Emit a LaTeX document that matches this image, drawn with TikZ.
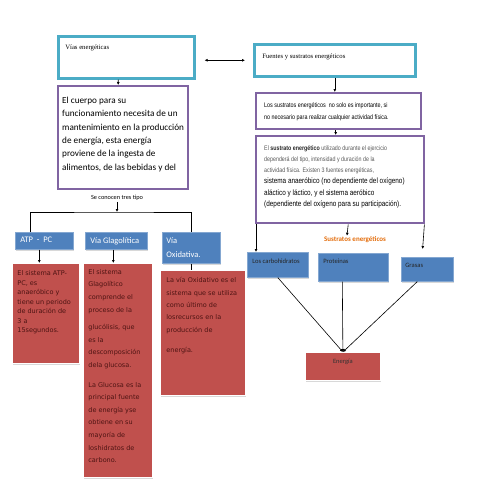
\documentclass[tikz,border=0pt]{standalone}
\usepackage{fontspec}
\setmainfont{Carlito}
\newfontfamily\timesf{Liberation Serif}
\newfontfamily\narrowf{Liberation Sans}[FakeStretch=0.82]
\newfontfamily\tahomaf{DejaVu Sans}
\usepackage{tikz}
\usetikzlibrary{arrows.meta,shadows}
\definecolor{BoxTeal}{HTML}{4BACC6}
\definecolor{BoxPurple}{HTML}{8064A2}
\definecolor{BoxBlue}{HTML}{4F81BD}
\definecolor{BoxRed}{HTML}{C0504D}
\definecolor{TitleOrange}{HTML}{E46C0A}
\definecolor{RedInk}{HTML}{4E1413}
\definecolor{GreyInk}{HTML}{595959}
\newcommand\boxtext[3]{\parbox[t][#2][t]{#1}{\raggedright #3}}

\begin{document}
\begin{tikzpicture}[
    x=1pt, y=-1pt,
    tealbox/.style={
      draw=BoxTeal,
      line width=2.6pt,
      fill=white,
      anchor=north west,
      font=\timesf\fontsize{6.7}{8}\selectfont
    },
    purplebox/.style={
      draw=BoxPurple,
      line width=2.4pt,
      fill=white,
      anchor=north west
    },
    bluebox/.style={
      fill=BoxBlue,
      draw=BoxBlue!70!white,
      line width=0.6pt,
      anchor=north west,
      drop shadow={shadow xshift=1pt, shadow yshift=-1.5pt, fill=black!30}
    },
    redbox/.style={
      fill=BoxRed,
      draw=white,
      line width=0.8pt,
      anchor=north west,
      text=RedInk,
      drop shadow={shadow xshift=0.5pt, shadow yshift=-2pt, fill=black!30}
    },
    arrow/.style={-{Latex[length=3pt,width=3pt]}, line width=0.6pt},
    twoway/.style={{Latex[length=3pt,width=3pt]}-{Latex[length=3pt,width=3pt]}, line width=0.6pt},
    link/.style={line width=0.6pt}
  ]
    \fill[white] (0,0) rectangle (495,495);
    \useasboundingbox (0,0) rectangle (495,495);

    \node[tealbox, inner xsep=7pt, inner ysep=9pt] (vias) at (57,35) {\boxtext{122pt}{24pt}{Vías energéticas}};
    \node[tealbox, inner xsep=8pt, inner ysep=9.5pt] (fuentes) at (253,43) {\boxtext{145pt}{13pt}{Fuentes y sustratos energéticos}};

    \node[purplebox, font=\fontsize{9.2}{13.3}\selectfont, inner xsep=4pt, inner ysep=11pt] (cuerpo) at (57,85)
      {\boxtext{122pt}{81pt}{El cuerpo para su\\funcionamiento necesita de un\\mantenimiento en la producción\\de energía, esta energía\\proviene de la ingesta de\\alimentos, de las bebidas y del}};
    \node[font=\fontsize{6.3}{7}\selectfont, inner sep=1pt] (tipos) at (117,198) {Se conocen tres tipo};
    \coordinate (split) at (117,212);

    \node[bluebox, text=white, font=\fontsize{8.5}{9}\selectfont, inner xsep=5pt, inner ysep=5pt] (atp) at (15,232) {\boxtext{48pt}{7pt}{ATP\hspace{0.45em}-\hspace{0.45em}PC}};
    \node[bluebox, text=white, font=\fontsize{8.5}{9}\selectfont, inner xsep=5pt, inner ysep=5pt] (glago) at (85,232) {\boxtext{52pt}{7pt}{Vía Glagolítica}};
    \node[bluebox, text=white, font=\fontsize{8.5}{14.5}\selectfont, inner xsep=4pt, inner ysep=5pt] (oxid) at (162,232) {\boxtext{50pt}{21pt}{Vía\\Oxidativa.}};

    \node[redbox, font=\tahomaf\fontsize{6.5}{9.5}\selectfont, inner xsep=5pt, inner ysep=7.5pt] (atpred) at (12,263)
      {\boxtext{57pt}{85pt}{El sistema ATP-\\PC, es\\anaeróbico y\\tiene un periodo\\de duración de\\3 a\\15segundos.}};
    \node[redbox, font=\tahomaf\fontsize{6.5}{12.6}\selectfont, inner xsep=5pt, inner ysep=6pt] (glagored) at (83,263)
      {\boxtext{59pt}{202pt}{El sistema\\Glagolítico\\comprende el\\proceso de la\\[5pt]glucólisis, que\\es la\\descomposición\\dela glucosa.\\[7pt]La Glucosa es la\\principal fuente\\de energía yse\\obtiene en su\\mayoría de\\loshidratos de\\carbono.}};
    \node[redbox, font=\tahomaf\fontsize{6.5}{12.4}\selectfont, inner xsep=6pt, inner ysep=7pt] (oxidred) at (160,270)
      {\boxtext{73pt}{111pt}{La vía Oxidativo es el\\sistema que se utiliza\\como último de\\losrecursos en la\\producción de\\[7.6pt]energía.}};

    \node[purplebox, font=\narrowf\fontsize{6.6}{12}\selectfont, inner xsep=8pt, inner ysep=9pt] (sustr1) at (255,92)
      {\boxtext{149pt}{18pt}{Los sustratos energéticos\ \ no solo es importante, si\\no necesario para realizar cualquier actividad física.}};
    \node[purplebox, text=GreyInk, font=\narrowf\fontsize{6.5}{10.7}\selectfont, inner xsep=8pt, inner ysep=10pt] (sustr2) at (255,135)
      {\boxtext{152pt}{67pt}{El \textbf{\color{black!85}sustrato energético} utilizado durante el ejercicio\\dependerá del tipo, intensidad y duración de la\\actividad física. Existen 3 fuentes energéticas,\par
       \fontsize{7.8}{11.5}\selectfont\color{black}sistema anaeróbico (no dependiente del oxígeno)\\aláctico y láctico, y el sistema aeróbico\\(dependiente del oxígeno para su participación).}};
    \node[font=\bfseries\fontsize{7}{8}\selectfont, text=TitleOrange, inner sep=1pt] (sustitle) at (355,240) {Sustratos energéticos};

    \node[bluebox, text=black!85, font=\fontsize{6.6}{8}\selectfont, inner xsep=5pt, inner ysep=7pt] (carbo) at (247,252) {\boxtext{51pt}{11pt}{Los carbohidratos}};
    \node[bluebox, text=black!85, font=\fontsize{6.6}{8}\selectfont, inner xsep=5pt, inner ysep=6pt] (prot) at (318,253) {\boxtext{60pt}{16pt}{Proteinas}};
    \node[bluebox, text=black!85, font=\fontsize{6.6}{8}\selectfont, inner xsep=4pt, inner ysep=6pt] (grasas) at (401,257) {\boxtext{44pt}{12pt}{Grasas}};
    \node[redbox, text=black!80, font=\fontsize{6.5}{8}\selectfont, inner xsep=6pt, inner ysep=7pt] (energia) at (305,352) {\boxtext{63pt}{14pt}{\centering Energía}};

    \draw[twoway] ([xshift=9pt]fuentes.west -| vias.east) -- ([xshift=-8pt]fuentes.west);
    \draw[arrow] ([xshift=-8pt]vias.south) -- ([xshift=-5pt]cuerpo.north);
    \draw[arrow] (tipos.south) -- (split);
    \draw[link] ([xshift=15pt]atp.north west) |- (split) -| (oxid.north);
    \draw[arrow] ([xshift=-5pt]atp.south) -- ([xshift=-5pt]atp.south |- atpred.north);
    \draw[arrow] ([xshift=-3pt]glago.south) -- ([xshift=-3pt]glago.south |- glagored.north);
    \draw[link] (oxid.south) -- (oxid.south |- oxidred.north);

    \draw[arrow] (fuentes.south) -- (fuentes.south |- sustr1.north);
    \draw[arrow] ([xshift=-3pt]sustr1.south) -- ([xshift=-3pt]sustr1.south |- sustr2.north);
    \draw[arrow] ([xshift=1pt]sustr2.south west) -- ([xshift=9pt]carbo.north west);
    \draw[arrow] ([xshift=8pt]sustr2.south) -- ([xshift=-8pt]sustitle.north);
    \draw[arrow, shorten >=8pt] ([xshift=-1pt]sustr2.south east) -- ([xshift=21pt]grasas.north west);
    \draw[arrow] (carbo.south) -- (energia.north);
    \draw[arrow] ([xshift=-11pt]prot.south) -- (energia.north);
    \draw[arrow] ([xshift=-10pt]grasas.south) -- (energia.north);
  \end{tikzpicture}
\end{document}
